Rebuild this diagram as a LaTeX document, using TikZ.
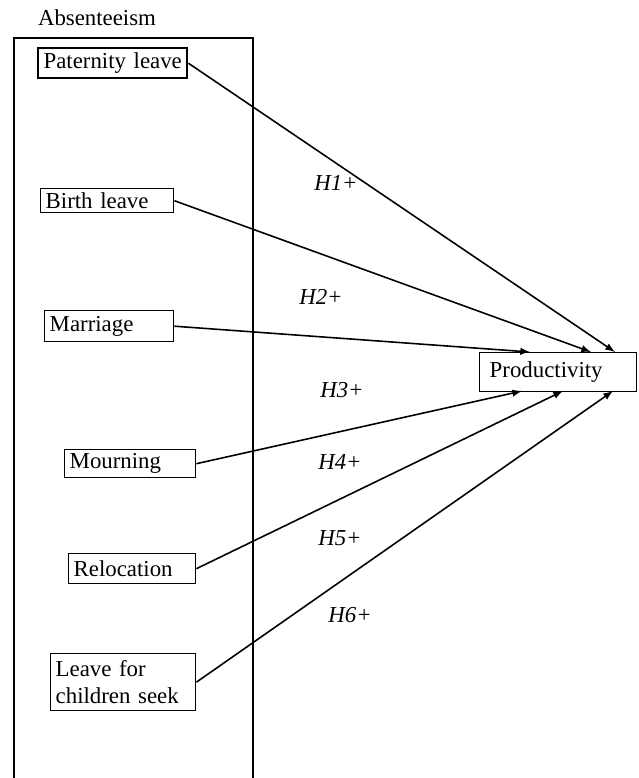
\documentclass[tikz,border=0pt]{standalone}
\usepackage{fontspec}
\setmainfont{Liberation Serif}
\usetikzlibrary{arrows,positioning}

\begin{document}
\begin{tikzpicture}[x=0.02cm,y=-0.02cm,
                    every node/.style={font=\fontsize{13}{15.5}\selectfont},
                    leave/.style={draw,line width=0.8pt,anchor=north west,inner xsep=0.1cm,inner ysep=0.04cm,align=left},
                    link/.style={->,>=latex,line width=0.9pt},
                    hyp/.style={font=\fontsize{13}{15.5}\selectfont\itshape}]
\useasboundingbox (0,0) rectangle (639,778);

% absenteeism frame
\draw[line width=1.1pt] (14,778) -- (14,38) -- (253,38) -- (253,778);
\node (abs) at (97,18) {Absenteeism};

\node[leave,line width=1.4pt,align=center,text width=2.78cm,minimum height=0.6cm] (pat) at (37,47) {Paternity leave};
\node[leave,text width=2.46cm,minimum height=0.48cm] (birth) at (40,188) {Birth leave};
\node[leave,text width=2.38cm,minimum height=0.62cm] (marr) at (44,310) {Marriage};
\node[leave,text width=2.42cm,minimum height=0.56cm] (mourn) at (64,449) {Mourning};
\node[leave,text width=2.34cm,minimum height=0.6cm] (reloc) at (68,553) {Relocation};
\node[leave,text width=2.7cm,minimum height=1.14cm] (kids) at (50,653) {Leave for\\children seek};

\node[leave,inner xsep=0.2cm,text width=2.74cm,minimum height=0.78cm] (prod) at (479,352) {Productivity};

% arrow ends on productivity
\coordinate (e1) at (615,352);
\coordinate (e2) at (591,352);
\coordinate (e3) at (530,352);
\coordinate (e4) at (522,391);
\coordinate (e5) at (563,391);
\coordinate (e6) at (613,391);

\draw[link] (pat.east) -- (e1);
\draw[link] (birth.east) -- (e2);
\draw[link] (marr.east) -- (e3);
\draw[link] (mourn.east) -- (e4);
\draw[link] (reloc.east) -- (e5);
\draw[link] (kids.east) -- (e6);

\node[hyp] (h1) at (336,183) {H1+};
\node[hyp] (h2) at (321,297) {H2+};
\node[hyp] (h3) at (342,390) {H3+};
\node[hyp] (h4) at (340,462) {H4+};
\node[hyp] (h5) at (340,538) {H5+};
\node[hyp] (h6) at (350,615) {H6+};

\end{tikzpicture}
\end{document}
